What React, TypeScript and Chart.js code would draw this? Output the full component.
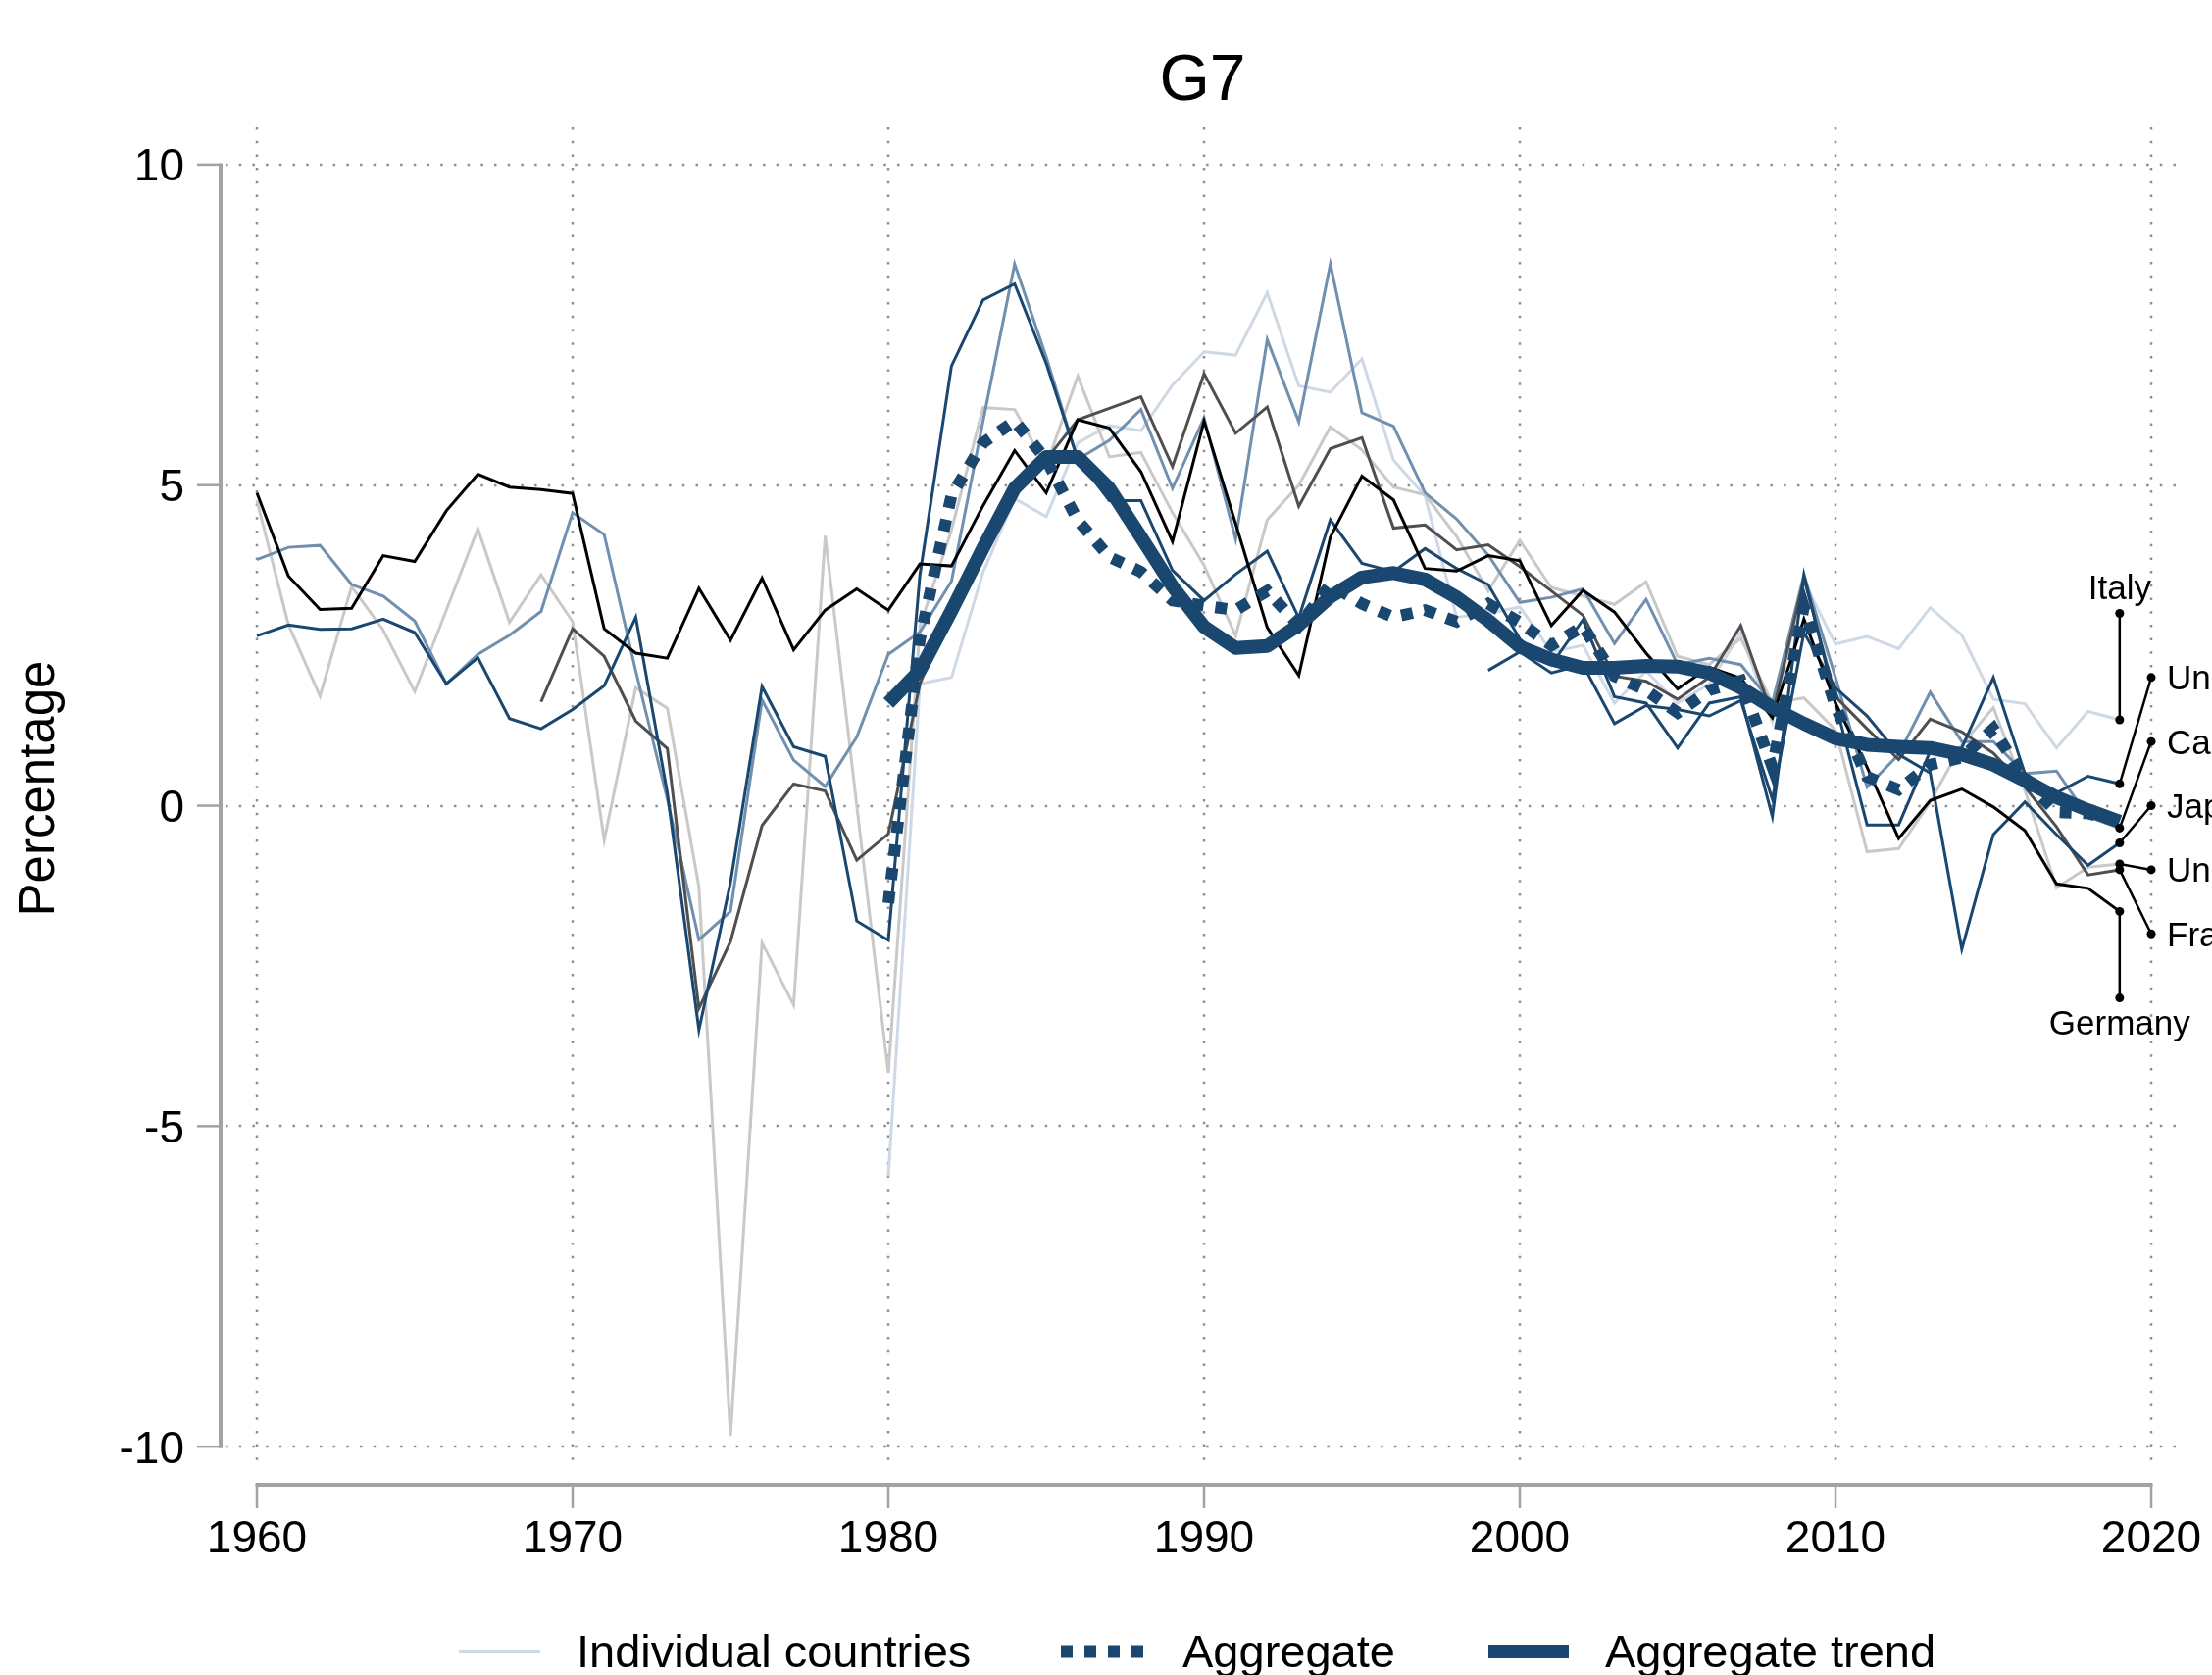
import React, { useEffect, useRef } from "react";
import { Chart, registerables } from "chart.js";

Chart.register(...registerables);

const W = 2256;
const H = 1708;

const TITLE = "G7";
const Y_TITLE = "Percentage";
const LEGEND_LABELS = ["Individual countries", "Aggregate", "Aggregate trend"];
const X_TICKS = [1960, 1970, 1980, 1990, 2000, 2010, 2020];
const Y_TICKS = [-10, -5, 0, 5, 10];
const X_MIN = 1959.006;
const X_MAX = 2020.9;
const Y_MIN = -10.38;
const Y_MAX = 10.58;

const FIRST_YEAR = 1960;
const N = null;

// 1960 ... 2019
const GERMANY = [
  4.88, 3.58, 3.06, 3.08, 3.9, 3.81, 4.6, 5.17, 4.97, 4.93,
  4.87, 2.76, 2.38, 2.3, 3.39, 2.58, 3.55, 2.43, 3.05, 3.38,
  3.05, 3.77, 3.74, 4.68, 5.54, 4.88, 6.02, 5.89, 5.21, 4.12,
  6.0, 4.4, 2.78, 2.03, 4.19, 5.14, 4.77, 3.7, 3.66, 3.9,
  3.82, 2.81, 3.36, 3.02, 2.38, 1.82, 2.16, 1.99, 1.37, 2.91,
  1.6, 0.6, -0.51, 0.08, 0.26, -0.02, -0.39, -1.22, -1.29, -1.65,
];
const FRANCE = [
  N, N, N, N, N, N, N, N, N, 1.62,
  2.76, 2.33, 1.32, 0.89, -3.16, -2.12, -0.31, 0.34, 0.23, -0.85,
  -0.44, 1.9, 3.1, 4.1, 4.9, 5.4, 6.02, 6.2, 6.38, 5.29,
  6.74, 5.81, 6.22, 4.67, 5.57, 5.74, 4.33, 4.38, 3.99, 4.07,
  3.73, 3.35, 2.97, 2.02, 1.94, 1.66, 2.0, 2.81, 1.41, 3.55,
  1.7, 1.2, 0.72, 1.35, 1.15, 0.82, 0.29, -0.33, -1.08, -1.0,
];
const UNITED_KINGDOM = [
  4.76, 2.82, 1.71, 3.42, 2.74, 1.78, 3.05, 4.32, 2.86, 3.6,
  2.87, -0.54, 1.84, 1.52, -1.27, -9.83, -2.14, -3.11, 4.21, 0.0,
  -4.17, 2.8, 4.3, 6.21, 6.18, 5.3, 6.7, 5.44, 5.51, 4.57,
  3.75, 2.65, 4.46, 5.0, 5.91, 5.55, 4.97, 4.85, 4.2, 3.35,
  4.14, 3.4, 3.27, 3.14, 3.49, 2.33, 2.2, 2.61, 1.6, 1.68,
  1.18, -0.72, -0.67, 0.06, 0.95, 1.53, 0.24, -1.28, -0.96, -0.91,
];
const CANADA = [
  3.84, 4.03, 4.06, 3.45, 3.27, 2.88, 1.9, 2.36, 2.66, 3.03,
  4.57, 4.23, 2.1, 0.1, -2.09, -1.65, 1.65, 0.71, 0.3, 1.07,
  2.36, 2.71, 3.5, 6.0, 8.45, 7.0, 5.4, 5.7, 6.18, 4.95,
  6.05, 4.16, 7.27, 5.99, 8.45, 6.13, 5.92, 4.88, 4.47, 3.91,
  3.17, 3.25, 3.38, 2.53, 3.22, 2.2, 2.3, 2.2, 1.6, 3.6,
  2.0, 0.29, 0.8, 1.77, 1.0, 1.0, 0.5, 0.54, -0.17, -0.35,
];
const UNITED_STATES = [
  2.65, 2.82, 2.75, 2.76, 2.91, 2.7, 1.9, 2.31, 1.36, 1.2,
  1.5, 1.87, 2.94, 0.2, -3.5, -1.2, 1.86, 0.92, 0.77, -1.8,
  -2.1, 3.6, 6.86, 7.89, 8.14, 6.9, 5.4, 4.76, 4.76, 3.67,
  3.2, 3.61, 3.97, 2.93, 4.46, 3.78, 3.65, 4.01, 3.7, 3.45,
  2.6, 2.2, 2.9, 1.7, 1.6, 0.9, 1.6, 1.7, -0.17, 3.6,
  1.6, -0.3, -0.3, 0.85, 0.9, 2.0, 0.5, 0.2, 0.46, 0.34,
];
const JAPAN = [
  N, N, N, N, N, N, N, N, N, N,
  N, N, N, N, N, N, N, N, N, N,
  N, N, N, N, N, N, N, N, N, N,
  N, N, N, N, N, N, N, N, N, 2.11,
  2.4, 2.07, 2.2, 1.28, 1.56, 1.5, 1.4, 1.64, 0.1, 2.7,
  1.84, 1.4, 0.8, 0.51, -2.24, -0.45, 0.06, -0.45, -0.93, -0.58,
];
const ITALY = [
  N, N, N, N, N, N, N, N, N, N,
  N, N, N, N, N, N, N, N, N, N,
  -5.78, 1.9, 2.0, 3.64, 4.79, 4.51, 5.66, 5.93, 5.85, 6.56,
  7.08, 7.03, 8.0, 6.55, 6.45, 6.97, 5.39, 4.83, 2.94, 3.0,
  3.1, 2.4, 2.5, 1.6, 2.1, 1.6, 1.9, 2.7, 1.3, 3.5,
  2.52, 2.64, 2.45, 3.09, 2.66, 1.66, 1.59, 0.9, 1.47, 1.34,
];
const AGGREGATE = [
  N, N, N, N, N, N, N, N, N, N,
  N, N, N, N, N, N, N, N, N, N,
  -1.52, 2.6, 4.84, 5.66, 6.0, 5.4, 4.45, 3.88, 3.65, 3.2,
  3.12, 3.05, 3.35, 2.81, 3.45, 3.15, 2.94, 3.05, 2.87, 3.15,
  2.86, 2.5, 2.8, 2.02, 1.8, 1.45, 1.8, 1.95, 0.6, 3.1,
  1.55, 0.45, 0.25, 0.64, 0.75, 1.2, 0.4, -0.1, -0.12, -0.25,
];
const AGGREGATE_TREND = [
  N, N, N, N, N, N, N, N, N, N,
  N, N, N, N, N, N, N, N, N, N,
  1.6, 2.11, 3.04, 4.02, 4.95, 5.44, 5.44, 4.95, 4.19, 3.42,
  2.79, 2.46, 2.49, 2.82, 3.26, 3.56, 3.63, 3.53, 3.25, 2.89,
  2.48, 2.28, 2.15, 2.15, 2.18, 2.17, 2.07, 1.84, 1.53, 1.28,
  1.05, 0.95, 0.92, 0.9, 0.8, 0.64, 0.39, 0.13, -0.07, -0.25,
];

// label anchors (in data units): year and value of the label dot
const LABEL_NAMES = ["Italy", "United States", "Canada", "Japan", "United Kingdom", "France", "Germany"];
const LABEL_YEARS = [2019, 2020, 2020, 2020, 2020, 2020, 2019];
const LABEL_VALUES = [3, 2, 1, 0, -1, -2, -3];

const DARK_BLUE = "#1a476f";
const COUNTRY_STYLE: Record<string, string> = {
  Germany: "#000000",
  "United States": DARK_BLUE,
  Japan: DARK_BLUE,
  France: "#4f4f4f",
  Canada: "#7190b0",
  "United Kingdom": "#c9c9c9",
  Italy: "#cfd9e5",
};
const COUNTRY_VALUES: Record<string, (number | null)[]> = {
  Germany: GERMANY,
  "United States": UNITED_STATES,
  Japan: JAPAN,
  France: FRANCE,
  Canada: CANADA,
  "United Kingdom": UNITED_KINGDOM,
  Italy: ITALY,
};
const DRAW_ORDER = ["Germany", "United States", "Japan", "France", "Canada", "United Kingdom", "Italy"];

const AXIS_COLOR = "#a3a3a3";
const GRID_COLOR = "#8f8f8f";
const FONT = '"Liberation Sans", Arial, Helvetica, sans-serif';

function toPoints(vals: (number | null)[]) {
  const pts: { x: number; y: number }[] = [];
  vals.forEach((v, i) => {
    if (v !== null && v !== undefined) pts.push({ x: FIRST_YEAR + i, y: v });
  });
  return pts;
}
function lastValue(vals: (number | null)[]) {
  for (let i = vals.length - 1; i >= 0; i--) if (vals[i] !== null) return { x: FIRST_YEAR + i, y: vals[i] as number };
  return { x: FIRST_YEAR, y: 0 };
}

const decorPlugin = {
  id: "decor",
  beforeDatasetsDraw(chart: any) {
    const { ctx, chartArea: ca } = chart;
    const xs = chart.scales.x;
    const ys = chart.scales.y;
    ctx.save();
    ctx.strokeStyle = GRID_COLOR;
    ctx.lineWidth = 2.5;
    ctx.lineCap = "butt";
    ctx.setLineDash([2.5, 11.2]);
    Y_TICKS.forEach((v) => {
      const py = Math.round(ys.getPixelForValue(v));
      ctx.beginPath();
      ctx.moveTo(ca.left, py);
      ctx.lineTo(ca.right, py);
      ctx.stroke();
    });
    X_TICKS.forEach((v) => {
      const px = Math.round(xs.getPixelForValue(v));
      ctx.beginPath();
      ctx.moveTo(px, ca.top);
      ctx.lineTo(px, ca.bottom);
      ctx.stroke();
    });
    ctx.restore();
  },
  afterDraw(chart: any) {
    const { ctx, chartArea: ca } = chart;
    const xs = chart.scales.x;
    const ys = chart.scales.y;
    ctx.save();
    ctx.setLineDash([]);

    // axes
    const axX = ca.left - 5;
    const axY = ca.bottom + 14;
    ctx.strokeStyle = AXIS_COLOR;
    ctx.lineWidth = 4;
    ctx.beginPath();
    ctx.moveTo(axX, ys.getPixelForValue(Y_TICKS[Y_TICKS.length - 1]) - 1.5);
    ctx.lineTo(axX, ys.getPixelForValue(Y_TICKS[0]) + 1.5);
    ctx.stroke();
    ctx.beginPath();
    ctx.moveTo(xs.getPixelForValue(X_TICKS[0]) - 1.5, axY);
    ctx.lineTo(xs.getPixelForValue(X_TICKS[X_TICKS.length - 1]) + 1.5, axY);
    ctx.stroke();

    ctx.lineWidth = 2.5;
    Y_TICKS.forEach((v) => {
      const py = ys.getPixelForValue(v);
      ctx.beginPath();
      ctx.moveTo(axX - 24, py);
      ctx.lineTo(axX, py);
      ctx.stroke();
    });
    X_TICKS.forEach((v) => {
      const px = xs.getPixelForValue(v);
      ctx.beginPath();
      ctx.moveTo(px, axY);
      ctx.lineTo(px, axY + 24);
      ctx.stroke();
    });

    // tick labels
    ctx.fillStyle = "#000";
    ctx.font = `46px ${FONT}`;
    ctx.textAlign = "right";
    ctx.textBaseline = "alphabetic";
    Y_TICKS.forEach((v) => {
      const py = ys.getPixelForValue(v);
      ctx.fillText(String(v), axX - 37, py + 16.5);
    });
    ctx.textAlign = "center";
    X_TICKS.forEach((v) => {
      const px = xs.getPixelForValue(v);
      ctx.fillText(String(v), px, axY + 69);
    });

    // titles
    ctx.font = `66px ${FONT}`;
    ctx.textAlign = "center";
    ctx.fillText(TITLE, (ca.left + ca.right) / 2, 102);

    ctx.save();
    ctx.font = `51px ${FONT}`;
    ctx.translate(55, 804);
    ctx.rotate(-Math.PI / 2);
    ctx.textAlign = "center";
    ctx.fillText(Y_TITLE, 0, 0);
    ctx.restore();

    // country labels
    ctx.font = `35px ${FONT}`;
    LABEL_NAMES.forEach((name, i) => {
      const px = xs.getPixelForValue(LABEL_YEARS[i]);
      const py = ys.getPixelForValue(LABEL_VALUES[i]);
      if (LABEL_YEARS[i] === 2019) {
        ctx.textAlign = "center";
        if (LABEL_VALUES[i] > 0) ctx.fillText(name, px, py - 14);
        else ctx.fillText(name, px, py + 37);
      } else {
        ctx.textAlign = "left";
        ctx.fillText(name, px + 16, py + 12.5);
      }
    });

    // legend
    const ly = 1684;
    ctx.lineCap = "butt";
    ctx.strokeStyle = COUNTRY_STYLE.Italy;
    ctx.lineWidth = 4;
    ctx.beginPath();
    ctx.moveTo(468, ly);
    ctx.lineTo(551, ly);
    ctx.stroke();
    ctx.strokeStyle = DARK_BLUE;
    ctx.lineWidth = 13;
    ctx.setLineDash([12, 12]);
    ctx.beginPath();
    ctx.moveTo(1082, ly);
    ctx.lineTo(1168, ly);
    ctx.stroke();
    ctx.setLineDash([]);
    ctx.lineWidth = 14;
    ctx.beginPath();
    ctx.moveTo(1518, ly);
    ctx.lineTo(1600, ly);
    ctx.stroke();
    ctx.font = `47px ${FONT}`;
    ctx.textAlign = "left";
    ctx.fillStyle = "#000";
    ctx.fillText(LEGEND_LABELS[0], 588, 1700);
    ctx.fillText(LEGEND_LABELS[1], 1206, 1700);
    ctx.fillText(LEGEND_LABELS[2], 1637, 1700);

    ctx.restore();
  },
};

function buildDatasets() {
  const ds: any[] = [];
  LABEL_NAMES.forEach((name, i) => {
    const end = lastValue(COUNTRY_VALUES[name]);
    ds.push({
      label: "lbl-" + name,
      data: [end, { x: LABEL_YEARS[i], y: LABEL_VALUES[i] }],
      borderColor: "#000",
      borderWidth: 2.5,
      pointRadius: 4.5,
      pointBackgroundColor: "#000",
      pointBorderWidth: 0,
      fill: false,
    });
  });
  ds.push({
    label: LEGEND_LABELS[2],
    data: toPoints(AGGREGATE_TREND),
    borderColor: DARK_BLUE,
    borderWidth: 14,
    borderCapStyle: "butt",
    borderJoinStyle: "round",
    pointRadius: 0,
    fill: false,
  });
  ds.push({
    label: LEGEND_LABELS[1],
    data: toPoints(AGGREGATE),
    borderColor: DARK_BLUE,
    borderWidth: 12,
    borderDash: [12, 12],
    borderCapStyle: "butt",
    borderJoinStyle: "miter",
    pointRadius: 0,
    fill: false,
  });
  DRAW_ORDER.forEach((name) => {
    ds.push({
      label: name,
      data: toPoints(COUNTRY_VALUES[name]),
      borderColor: COUNTRY_STYLE[name],
      borderWidth: 3,
      borderJoinStyle: "miter",
      pointRadius: 0,
      fill: false,
    });
  });
  return ds;
}

export default function App() {
  const ref = useRef<HTMLCanvasElement>(null);
  useEffect(() => {
    const canvas = ref.current;
    if (!canvas) return;
    const chart = new Chart(canvas, {
      type: "line",
      data: { datasets: buildDatasets() },
      options: {
        responsive: false,
        animation: false,
        devicePixelRatio: 1,
        layout: { padding: { left: 230, right: 33, top: 130, bottom: 208 } },
        scales: {
          x: { type: "linear", min: X_MIN, max: X_MAX, display: false },
          y: { type: "linear", min: Y_MIN, max: Y_MAX, display: false },
        },
        plugins: {
          legend: { display: false },
          title: { display: false },
          tooltip: { enabled: false },
        },
        elements: { line: { tension: 0 }, point: { radius: 0, hoverRadius: 0 } },
        events: [],
      } as any,
      plugins: [decorPlugin],
    });
    return () => chart.destroy();
  }, []);
  return (
    <div style={{ position: "fixed", left: 0, top: 0, width: W, height: H, background: "#fff", overflow: "hidden" }}>
      <canvas ref={ref} width={W} height={H} style={{ display: "block", width: W, height: H }} />
    </div>
  );
}
